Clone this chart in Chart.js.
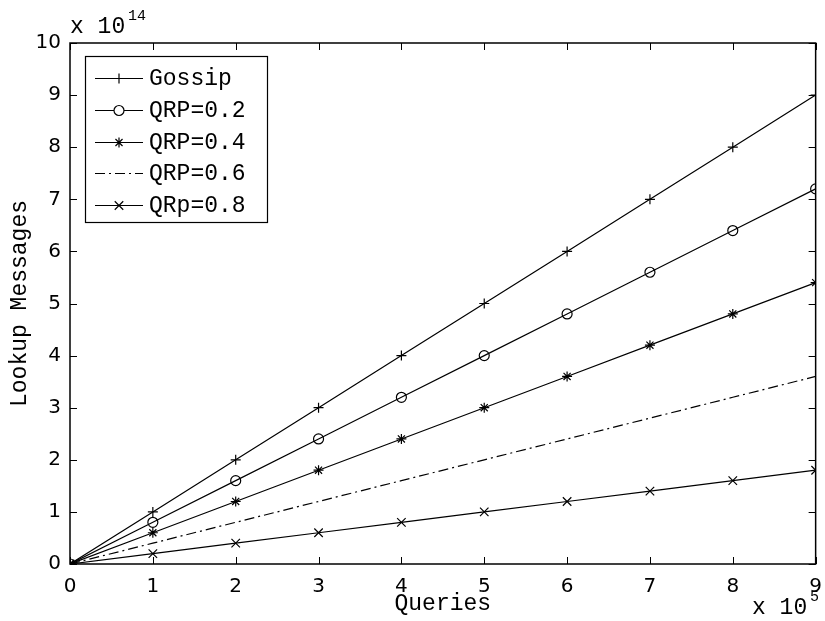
<!DOCTYPE html>
<html>
<head>
<meta charset="utf-8">
<script src="https://cdn.jsdelivr.net/npm/chart.js@4.4.1/dist/chart.umd.min.js"></script>
<style>
  html, body { margin: 0; padding: 0; background: #fff; }
  #wrap { width: 825px; height: 621px; }
</style>
</head>
<body>
<div id="wrap"><canvas id="lookupChart" width="825" height="621"></canvas></div>
<script>
// queries in units of 1e5, messages in units of 1e14
var queries = [0, 1, 2, 3, 4, 5, 6, 7, 8, 9];
var gossip = [0, 1, 2, 3, 4, 5, 6, 7, 8, 9];
var qrp02 = [0, 0.8, 1.6, 2.4, 3.2, 4.0, 4.8, 5.6, 6.4, 7.2];
var qrp04 = [0, 0.6, 1.2, 1.8, 2.4, 3.0, 3.6, 4.2, 4.8, 5.4];
var qrp06 = [0, 0.4, 0.8, 1.2, 1.6, 2.0, 2.4, 2.8, 3.2, 3.6];
var qrp08 = [0, 0.2, 0.4, 0.6, 0.8, 1.0, 1.2, 1.4, 1.6, 1.8];
var seriesNames = ['Gossip', 'QRP=0.2', 'QRP=0.4', 'QRP=0.6', 'QRp=0.8'];
var xTicks = [0, 1, 2, 3, 4, 5, 6, 7, 8, 9];
var yTicks = [0, 1, 2, 3, 4, 5, 6, 7, 8, 9, 10];

var MONO = '"Liberation Mono", "DejaVu Sans Mono", monospace';
var SANS = '"DejaVu Sans", sans-serif';

function toPoints(vals) {
    return queries.map(function (q, i) { return { x: q, y: vals[i] }; });
}

function makeSet(label, vals, style, radius, dash) {
    return {
        label: label,
        data: toPoints(vals),
        borderColor: '#000',
        backgroundColor: 'rgba(0,0,0,0)',
        borderWidth: 1.2,
        borderDash: dash || [],
        pointStyle: style,
        pointRadius: radius,
        pointBorderColor: '#000',
        pointBorderWidth: 1.2,
        pointBackgroundColor: 'rgba(0,0,0,0)',
        tension: 0
    };
}

// box, inward ticks, exponents and legend
var frame = {
    id: 'frame',
    afterDraw: function (chart) {
        var ctx = chart.ctx, a = chart.chartArea;
        var xs = chart.scales.x, ys = chart.scales.y;
        var tl = 7;
        ctx.save();
        ctx.strokeStyle = '#000';
        ctx.lineWidth = 1.5;
        ctx.strokeRect(a.left, a.top, a.right - a.left, a.bottom - a.top);
        ctx.lineWidth = 1;
        ctx.beginPath();
        xTicks.forEach(function (v) {
            var px = Math.round(xs.getPixelForValue(v)) + 0.5;
            ctx.moveTo(px, a.bottom); ctx.lineTo(px, a.bottom - tl);
            ctx.moveTo(px, a.top); ctx.lineTo(px, a.top + tl);
        });
        yTicks.forEach(function (v) {
            var py = Math.round(ys.getPixelForValue(v)) + 0.5;
            ctx.moveTo(a.left, py); ctx.lineTo(a.left + tl, py);
            ctx.moveTo(a.right, py); ctx.lineTo(a.right - tl, py);
        });
        ctx.stroke();

        // multipliers
        ctx.fillStyle = '#000';
        ctx.textBaseline = 'alphabetic';
        ctx.textAlign = 'left';
        ctx.font = '23px ' + MONO;
        ctx.fillText('x 10', 70, 33);
        ctx.font = '15px ' + MONO;
        ctx.fillText('14', 128, 20);
        ctx.font = '23px ' + MONO;
        ctx.fillText('x 10', 752, 614);
        ctx.font = '15px ' + MONO;
        ctx.fillText('5', 810, 601);

        // legend
        var lx = 85, ly = 56, lw = 182, lh = 166;
        ctx.fillStyle = '#fff';
        ctx.fillRect(lx, ly, lw, lh);
        ctx.lineWidth = 1.2;
        ctx.strokeRect(lx + 0.5, ly + 0.5, lw, lh);
        var rows = [78, 110, 142, 173, 205];
        chart.data.datasets.forEach(function (ds, i) {
            var y = rows[i] + 0.5;
            ctx.strokeStyle = '#000';
            ctx.lineWidth = 1.2;
            ctx.setLineDash(ds.borderDash);
            ctx.beginPath();
            ctx.moveTo(95, y); ctx.lineTo(143, y);
            ctx.stroke();
            ctx.setLineDash([]);
            if (ds.pointRadius > 0) {
                ctx.fillStyle = '#fff';
                Chart.helpers.drawPoint(ctx, {
                    pointStyle: ds.pointStyle,
                    radius: ds.pointRadius,
                    borderWidth: 1.2,
                    rotation: 0
                }, 119, y);
            }
            ctx.fillStyle = '#000';
            ctx.font = '23px ' + MONO;
            ctx.textBaseline = 'middle';
            ctx.fillText(seriesNames[i], 149, rows[i] + 1);
        });
        ctx.restore();
    }
};

var ctx = document.getElementById('lookupChart').getContext('2d');
var chartInstance = new Chart(ctx, {
    type: 'line',
    data: {
        datasets: [
            makeSet(seriesNames[0], gossip, 'cross', 5),
            makeSet(seriesNames[1], qrp02, 'circle', 5),
            makeSet(seriesNames[2], qrp04, 'star', 5),
            makeSet(seriesNames[3], qrp06, 'circle', 0, [10, 4, 2, 4]),
            makeSet(seriesNames[4], qrp08, 'crossRot', 6)
        ]
    },
    options: {
        responsive: false,
        animation: false,
        layout: { padding: { top: 43, right: 7, left: 0, bottom: 0 } },
        plugins: { legend: { display: false }, tooltip: { enabled: false } },
        scales: {
            x: {
                type: 'linear',
                min: 0, max: 9,
                grid: { display: false },
                border: { display: false },
                afterFit: function (scale) { scale.height = 57; },
                afterBuildTicks: function (scale) {
                    scale.ticks = xTicks.map(function (v) { return { value: v }; });
                },
                ticks: {
                    color: '#000',
                    font: { family: SANS, size: 20 },
                    padding: 3,
                    maxRotation: 0
                },
                title: {
                    display: true,
                    text: 'Queries',
                    color: '#000',
                    font: { family: MONO, size: 23 },
                    padding: { top: 0, bottom: 3 }
                }
            },
            y: {
                type: 'linear',
                min: 0, max: 10,
                grid: { display: false },
                border: { display: false },
                afterFit: function (scale) { scale.width = 70; },
                afterBuildTicks: function (scale) {
                    scale.ticks = yTicks.map(function (v) { return { value: v }; });
                },
                ticks: {
                    color: '#000',
                    font: { family: SANS, size: 20 },
                    padding: 1
                },
                title: {
                    display: true,
                    text: 'Lookup Messages',
                    color: '#000',
                    font: { family: MONO, size: 23 },
                    padding: { top: 6, bottom: 0 }
                }
            }
        }
    },
    plugins: [frame]
});
</script>
</body>
</html>
